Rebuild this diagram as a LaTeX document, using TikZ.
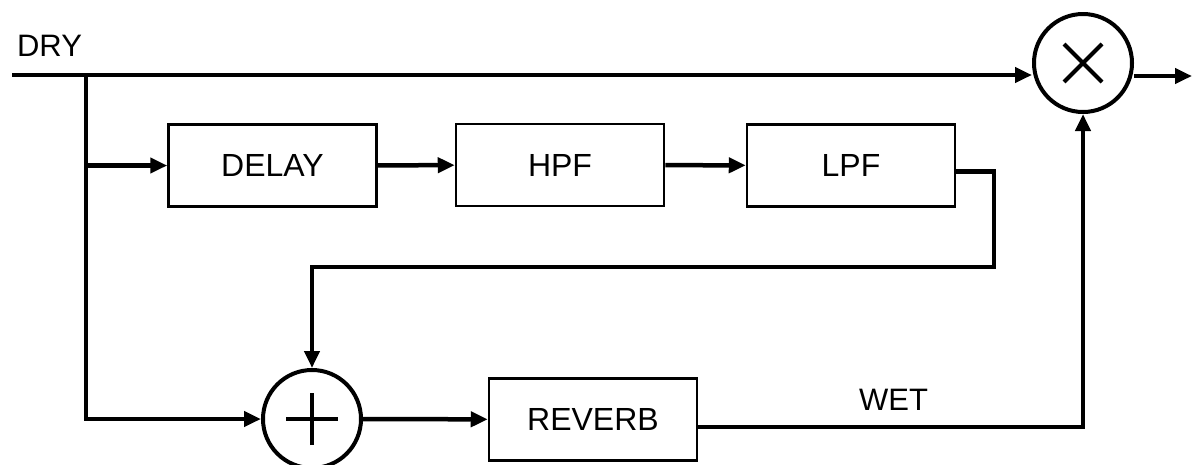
\documentclass[tikz,border=0pt]{standalone}
\usepackage{fontspec}
\setmainfont{Liberation Sans}
\usetikzlibrary{arrows.meta}
\begin{document}
\begin{tikzpicture}[x=1pt,y=-1pt,
  blockbox/.style={draw, line width=2.5pt, minimum width=208pt, minimum height=82pt,
                   font=\fontsize{32}{38}\selectfont, inner sep=0pt},
  junction/.style={draw, circle, line width=4pt, minimum size=98pt, inner sep=0pt},
  wire/.style={line width=4.5pt},
  flow/.style={wire, -{Triangle[length=17pt,width=15pt]}},
  glyph/.style={line width=4pt},
  lbl/.style={font=\fontsize{31}{36}\selectfont, inner sep=0pt}]
  \useasboundingbox (0,0) rectangle (1192,464);

  % processing blocks
  \node[blockbox] (delay)  at (272.5,165.5) {DELAY};
  \node[blockbox] (hpf)    at (560,165)     {HPF};
  \node[blockbox] (lpf)    at (851,165.5)   {LPF};
  \node[blockbox] (reverb) at (593,419.5)   {REVERB};

  % summing and mixing junctions
  \node[junction] (plus) at (312,419) {};
  \node[junction] (mult) at (1083,63) {};
  \draw[glyph] ([xshift=-26pt]plus.center) -- ([xshift=26pt]plus.center);
  \draw[glyph] ([yshift=-26pt]plus.center) -- ([yshift=26pt]plus.center);
  \draw[glyph] ([shift={(-19pt,-19pt)}]mult.center) -- ([shift={(19pt,19pt)}]mult.center);
  \draw[glyph] ([shift={(-19pt,19pt)}]mult.center) -- ([shift={(19pt,-19pt)}]mult.center);

  % labels
  \node[lbl] (dry) at (49.5,45.5) {DRY};
  \node[lbl] (wet) at (893.5,399.5) {WET};

  % signal routing
  \coordinate (in)    at (12,75);
  \coordinate (split) at (86,75);
  \coordinate (fb)    at (994,267);
  \coordinate (out)   at (1192,76);

  \draw[flow] (in) -- (in -| mult.west);
  \draw[flow] (split) |- (delay.west);
  \draw[flow] (split) |- (plus.west);
  \draw[flow] (delay) -- (hpf);
  \draw[flow] (hpf) -- (lpf);
  \draw[flow] ([yshift=-6pt]lpf.east) -| (fb) -| (plus.north);
  \draw[flow] (plus) -- (reverb);
  \draw[flow] ([yshift=-7.5pt]reverb.east) -| (mult.south);
  \draw[flow] (mult.east |- out) -- (out);
\end{tikzpicture}
\end{document}
